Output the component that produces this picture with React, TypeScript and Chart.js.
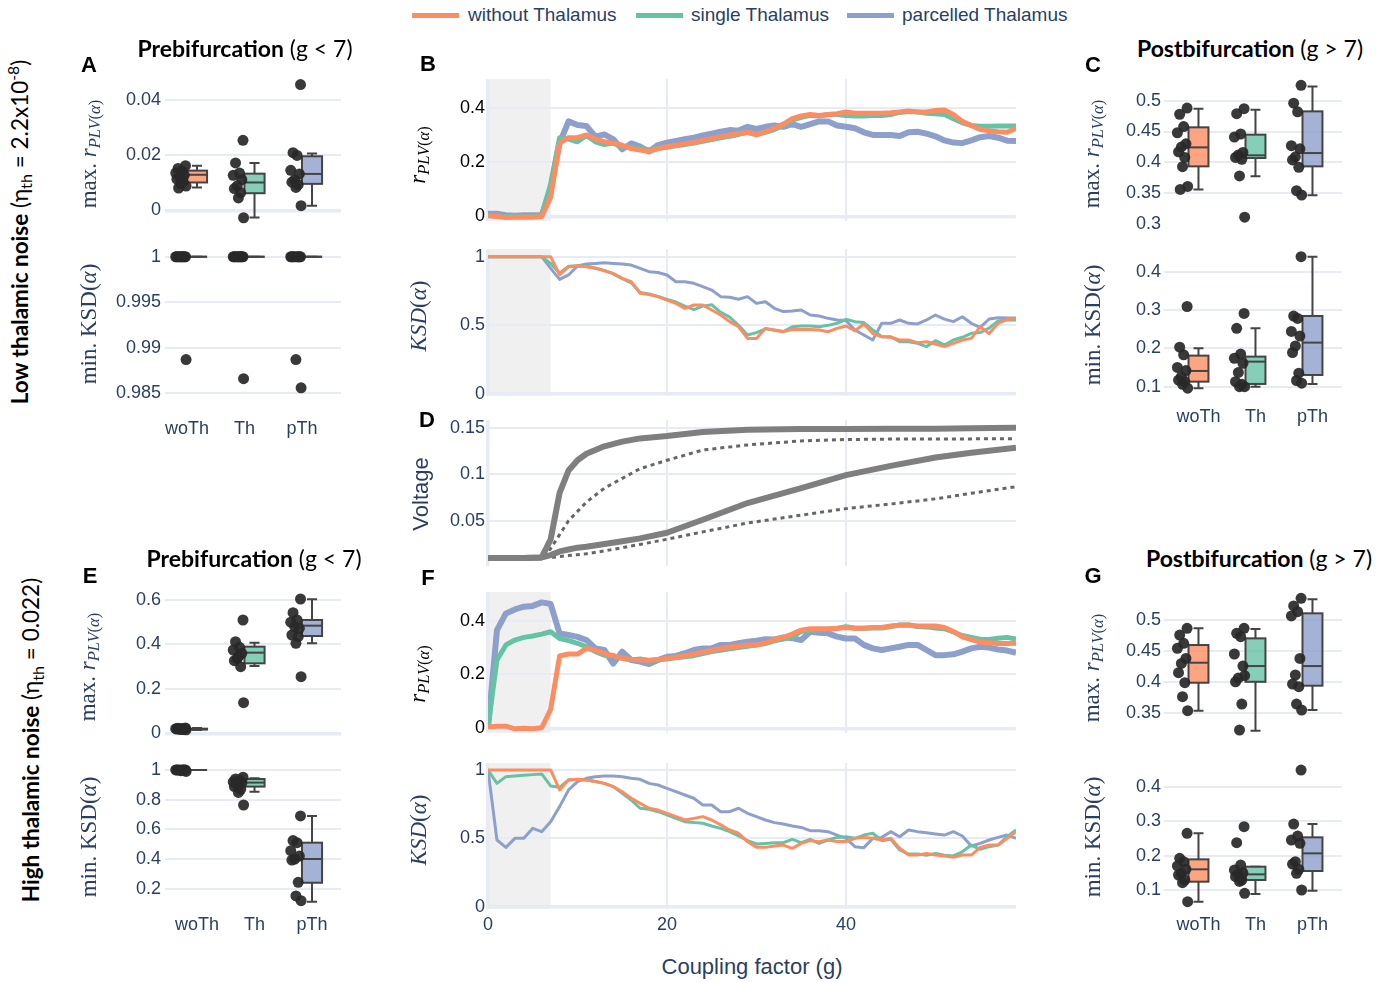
import React, { useEffect, useRef } from "react";
import { Chart, registerables } from "chart.js";

Chart.register(...registerables);

// ---------------- data ----------------
const G = [0,1,2,3,4,5,6,7,8,9,10,11,12,13,14,15,16,17,18,19,20,21,22,23,24,25,26,27,28,29,30,31,32,33,34,35,36,37,38,39,40,41,42,43,44,45,46,47,48,49,50,51,52,53,54,55,56,57,58,59];

// Panel B (low noise) r_PLV
const WO_B_R = [0.003,0.0,-0.004,-0.003,-0.002,-0.003,0.0,0.07,0.27,0.29, 0.29,0.30,0.285,0.275,0.27,0.262,0.25,0.245,0.24,0.25, 0.257,0.262,0.268,0.272,0.28,0.287,0.294,0.30,0.305,0.31, 0.30,0.312,0.325,0.34,0.36,0.37,0.375,0.372,0.375,0.378, 0.385,0.38,0.38,0.38,0.38,0.382,0.385,0.388,0.385,0.385, 0.39,0.392,0.375,0.35,0.335,0.32,0.315,0.312,0.31,0.325];
const TH_B_R = [0.005,0.003,0.0,0.002,0.0,0.001,0.005,0.12,0.29,0.285, 0.275,0.298,0.275,0.265,0.27,0.255,0.255,0.25,0.245,0.25, 0.255,0.26,0.265,0.27,0.277,0.283,0.29,0.295,0.302,0.31, 0.302,0.31,0.32,0.335,0.355,0.365,0.372,0.37,0.375,0.375, 0.372,0.37,0.37,0.372,0.372,0.375,0.383,0.386,0.385,0.38, 0.378,0.375,0.36,0.345,0.335,0.332,0.332,0.333,0.333,0.333];
const PTH_B_R = [0.01,0.01,0.005,0.003,0.005,0.005,0.005,0.1,0.27,0.35, 0.337,0.333,0.294,0.302,0.284,0.247,0.269,0.257,0.239,0.263, 0.272,0.278,0.284,0.29,0.298,0.305,0.312,0.318,0.316,0.33, 0.322,0.33,0.335,0.33,0.34,0.33,0.34,0.35,0.35,0.335, 0.33,0.325,0.31,0.3,0.3,0.3,0.296,0.31,0.312,0.305, 0.295,0.28,0.272,0.27,0.28,0.292,0.296,0.29,0.279,0.278];

// Panel B (low noise) KSD
const WO_B_K = [1,1,1,1,1,1,1,1,0.867,0.927, 0.934,0.927,0.915,0.898,0.878,0.842,0.818,0.733,0.725,0.709, 0.684,0.66,0.624,0.648,0.648,0.612,0.575,0.527,0.49,0.405, 0.405,0.478,0.466,0.454,0.47,0.47,0.47,0.466,0.454,0.478, 0.495,0.461,0.51,0.44,0.417,0.413,0.393,0.393,0.374,0.381, 0.364,0.345,0.369,0.393,0.405,0.49,0.44,0.515,0.544,0.55];
const TH_B_K = [1,1,1,1,1,1,1,0.95,0.88,0.93, 0.932,0.93,0.918,0.9,0.875,0.84,0.81,0.74,0.728,0.71, 0.688,0.67,0.64,0.615,0.64,0.65,0.595,0.56,0.5,0.43, 0.447,0.475,0.465,0.455,0.49,0.495,0.495,0.49,0.5,0.515, 0.544,0.527,0.52,0.466,0.417,0.417,0.381,0.381,0.369,0.345, 0.388,0.357,0.393,0.413,0.442,0.447,0.48,0.532,0.539,0.539];
const PTH_B_K = [1,1,1,1,1,1,1,0.915,0.835,0.867, 0.932,0.947,0.951,0.956,0.951,0.947,0.939,0.915,0.891,0.885, 0.867,0.818,0.818,0.806,0.782,0.757,0.709,0.705,0.69,0.709, 0.66,0.672,0.624,0.6,0.605,0.612,0.575,0.568,0.551,0.539, 0.535,0.466,0.43,0.393,0.515,0.515,0.539,0.515,0.51,0.539, 0.575,0.545,0.527,0.563,0.515,0.485,0.546,0.556,0.553,0.553];

// Panel F (high noise) r_PLV
const WO_F_R = [0.005,0.008,0.008,-0.002,0.0,-0.002,0.002,0.07,0.269,0.276, 0.276,0.297,0.29,0.278,0.27,0.26,0.256,0.255,0.253,0.256, 0.26,0.264,0.27,0.276,0.283,0.29,0.296,0.302,0.305,0.31, 0.31,0.318,0.33,0.338,0.35,0.365,0.37,0.37,0.37,0.372, 0.375,0.372,0.372,0.375,0.375,0.38,0.383,0.384,0.38,0.38, 0.38,0.375,0.36,0.34,0.33,0.32,0.318,0.315,0.315,0.316];
const TH_F_R = [0.006,0.254,0.31,0.328,0.338,0.343,0.35,0.359,0.334,0.326, 0.316,0.303,0.285,0.272,0.27,0.26,0.254,0.258,0.251,0.255, 0.258,0.262,0.266,0.27,0.278,0.285,0.29,0.296,0.3,0.305, 0.31,0.315,0.325,0.332,0.34,0.36,0.365,0.366,0.368,0.371, 0.378,0.372,0.372,0.373,0.373,0.378,0.384,0.384,0.378,0.377, 0.373,0.37,0.358,0.345,0.338,0.331,0.33,0.335,0.338,0.332];
const PTH_F_R = [0.0,0.365,0.427,0.442,0.452,0.455,0.468,0.462,0.353,0.347, 0.34,0.328,0.297,0.291,0.241,0.285,0.254,0.248,0.239,0.254, 0.266,0.269,0.279,0.291,0.297,0.297,0.31,0.31,0.316,0.322, 0.326,0.331,0.33,0.338,0.335,0.328,0.359,0.355,0.353,0.341, 0.334,0.334,0.31,0.297,0.291,0.297,0.303,0.31,0.31,0.291, 0.272,0.272,0.275,0.285,0.297,0.303,0.3,0.293,0.289,0.281];

// Panel F (high noise) KSD
const WO_F_K = [1,1,1,1,1,1,1,1,0.854,0.927, 0.932,0.927,0.915,0.902,0.878,0.841,0.793,0.756,0.72,0.707, 0.683,0.659,0.634,0.646,0.659,0.634,0.598,0.561,0.537,0.476, 0.434,0.434,0.444,0.451,0.427,0.463,0.483,0.476,0.488,0.476, 0.476,0.5,0.507,0.5,0.488,0.5,0.427,0.378,0.378,0.39, 0.378,0.371,0.361,0.378,0.378,0.434,0.451,0.451,0.5,0.549];
const TH_F_K = [1.0,0.902,0.951,0.956,0.961,0.966,0.971,0.883,0.873,0.927, 0.932,0.927,0.915,0.902,0.878,0.829,0.78,0.72,0.712,0.695, 0.671,0.646,0.622,0.615,0.61,0.59,0.573,0.549,0.517,0.483, 0.459,0.463,0.468,0.468,0.493,0.468,0.493,0.463,0.488,0.507, 0.512,0.5,0.524,0.537,0.483,0.493,0.415,0.385,0.385,0.376, 0.39,0.376,0.371,0.402,0.451,0.42,0.439,0.451,0.512,0.561];
const PTH_F_K = [1.0,0.488,0.434,0.5,0.5,0.573,0.549,0.622,0.732,0.854, 0.915,0.939,0.951,0.956,0.956,0.951,0.939,0.932,0.902,0.89, 0.866,0.841,0.817,0.793,0.744,0.744,0.695,0.695,0.72,0.683, 0.659,0.634,0.615,0.605,0.59,0.58,0.556,0.556,0.549,0.524, 0.5,0.439,0.432,0.5,0.507,0.549,0.512,0.561,0.549,0.541, 0.532,0.524,0.549,0.517,0.444,0.463,0.488,0.507,0.524,0.5];

// Panel D voltage
const VG = [0,2,4,6,7,8,9,10,11,13,15,17,20,24,29,35,40,45,50,54,59];
const V_SOLID_1 = [0.01,0.01,0.01,0.0105,0.03,0.08,0.104,0.115,0.122,0.13,0.135,0.1385,0.141,0.1455,0.1478,0.1486,0.1487,0.1489,0.149,0.1495,0.15];
const V_DOT_1 = [0.01,0.01,0.01,0.01,0.02,0.035,0.05,0.06,0.07,0.085,0.0955,0.106,0.115,0.126,0.1315,0.1358,0.1373,0.1378,0.138,0.138,0.1382];
const V_SOLID_2 = [0.01,0.01,0.01,0.0105,0.013,0.017,0.019,0.021,0.022,0.025,0.028,0.031,0.037,0.051,0.069,0.085,0.099,0.109,0.118,0.123,0.1285];
const V_DOT_2 = [0.01,0.01,0.01,0.01,0.0105,0.0115,0.0125,0.0135,0.0145,0.0175,0.021,0.0245,0.03,0.038,0.0475,0.056,0.063,0.068,0.0735,0.0795,0.0866];

// Box panels: points per category [woTh, Th, pTh]; box stats [lowWhisker, q1, median, q3, highWhisker]
const CATS = ["woTh", "Th", "pTh"];
const LEGEND_LABELS = ["without Thalamus", "single Thalamus", "parcelled Thalamus"];

const A_MAX_PTS = [
  [0.0162,0.0152,0.0143,0.0135,0.0128,0.0121,0.0113,0.0104,0.0096,0.0088,0.0081],
  [0.0254,0.0172,0.0135,0.0127,0.0111,0.0089,0.0079,0.0064,0.0045,-0.0027],
  [0.0456,0.0209,0.0199,0.0145,0.0132,0.0111,0.0102,0.0093,0.0083,0.0017],
];
const A_MAX_BOX = [[0.0083,0.0101,0.0129,0.0144,0.0162],[-0.0026,0.0062,0.0101,0.0133,0.0172],[0.0017,0.0096,0.0132,0.0196,0.0206]];
const A_KSD_PTS = [
  [1,1,1,1,1,1,1,1,1,0.9887],
  [1,1,1,1,1,1,1,1,1,0.9866],
  [1,1,1,1,1,1,1,1,0.9887,0.9856],
];
const A_KSD_BOX = [[1,1,1,1,1],[1,1,1,1,1],[1,1,1,1,1]];

const C_MAX_PTS = [
  [0.488,0.478,0.458,0.448,0.43,0.425,0.417,0.408,0.393,0.361,0.356],
  [0.487,0.479,0.446,0.441,0.416,0.412,0.408,0.405,0.378,0.311],
  [0.525,0.496,0.482,0.427,0.422,0.409,0.404,0.392,0.354,0.347],
];
const C_MAX_BOX = [[0.356,0.3935,0.4243,0.4568,0.487],[0.3773,0.407,0.4114,0.4449,0.4854],[0.3465,0.3935,0.4151,0.4827,0.5232]];
const C_KSD_PTS = [
  [0.309,0.203,0.183,0.15,0.142,0.126,0.117,0.113,0.106,0.096],
  [0.291,0.252,0.185,0.174,0.161,0.137,0.113,0.106,0.1,0.1],
  [0.439,0.284,0.278,0.244,0.232,0.206,0.189,0.135,0.116,0.109],
];
const C_KSD_BOX = [[0.0957,0.113,0.1409,0.1809,0.2],[0.1,0.107,0.1652,0.1783,0.2522],[0.107,0.1304,0.2148,0.2843,0.4391]];

const E_MAX_PTS = [
  [0.024,0.023,0.022,0.021,0.02,0.019,0.019,0.018,0.017,0.016],
  [0.51,0.4125,0.387,0.375,0.36,0.3375,0.327,0.3,0.345,0.138],
  [0.6045,0.543,0.51,0.5,0.4725,0.48,0.4425,0.435,0.405,0.255],
];
const E_MAX_BOX = [[0.015,0.017,0.019,0.021,0.024],[0.303,0.315,0.363,0.39,0.408],[0.405,0.438,0.4845,0.51,0.603]];
const E_KSD_PTS = [
  [1,1,1,1,1,1,1,1,0.995,0.99],
  [0.951,0.94,0.93,0.92,0.91,0.9,0.888,0.87,0.849,0.764],
  [0.69,0.524,0.51,0.456,0.42,0.4,0.393,0.243,0.151,0.119],
];
const E_KSD_BOX = [[1,1,1,1,1],[0.854,0.888,0.915,0.939,0.945],[0.112,0.24,0.4,0.51,0.69]];

const G_MAX_PTS = [
  [0.4865,0.4757,0.4622,0.4541,0.4379,0.4298,0.4147,0.3985,0.3759,0.3532],
  [0.4865,0.4784,0.473,0.445,0.4255,0.4061,0.4,0.364,0.322,0.41],
  [0.5351,0.5227,0.5135,0.5065,0.4379,0.411,0.3964,0.3921,0.364,0.3543],
];
const G_MAX_BOX = [[0.3532,0.3985,0.4309,0.4595,0.4865],[0.3208,0.4,0.4255,0.4703,0.4854],[0.3543,0.3937,0.4255,0.5108,0.5335]];
const G_KSD_PTS = [
  [0.2645,0.1919,0.1822,0.17,0.16,0.1483,0.1435,0.129,0.1212,0.066],
  [0.2838,0.2374,0.1725,0.158,0.15,0.145,0.1386,0.129,0.125,0.0902],
  [0.4484,0.2916,0.2567,0.245,0.2354,0.1822,0.1754,0.16,0.1483,0.1],
];
const G_KSD_BOX = [[0.066,0.1241,0.16,0.189,0.2645],[0.0883,0.129,0.1454,0.1677,0.1677],[0.098,0.1551,0.2064,0.2529,0.2916]];

// tick values
const X_TICKS = [0, 20, 40];
const Y_TICKS_R = [0, 0.2, 0.4];
const Y_TICKS_K = [0, 0.5, 1];
const Y_TICKS_V = [0.05, 0.1, 0.15];
const A_MAX_TICKS = [0, 0.02, 0.04];
const A_KSD_TICKS = [0.985, 0.99, 0.995, 1];
const C_MAX_TICKS = [0.3, 0.35, 0.4, 0.45, 0.5];
const C_KSD_TICKS = [0.1, 0.2, 0.3, 0.4];
const E_MAX_TICKS = [0, 0.2, 0.4, 0.6];
const E_KSD_TICKS = [0.2, 0.4, 0.6, 0.8, 1];
const G_MAX_TICKS = [0.35, 0.4, 0.45, 0.5];
const G_KSD_TICKS = [0.1, 0.2, 0.3, 0.4];

// jitter offsets of the strip points (category units)
const JIT = [-0.2, -0.33, -0.26, -0.37, -0.22, -0.3, -0.35, -0.24, -0.28, -0.19, -0.32];

// ---------------- styles ----------------
const TEXT = "#2a3f5f";
const GRID = "#E6EBF4";
const SANS = "'Liberation Sans', Arial, sans-serif";
const SERIF = "'Liberation Serif', 'Times New Roman', serif";
const TFONT = "Lato, 'Open Sans', sans-serif";
const COLORS = ["#fc8d62", "#66c2a5", "#8da0cb"];
const BOX_FILL = ["rgba(252,141,98,0.8)", "rgba(102,194,165,0.8)", "rgba(141,160,203,0.8)"];
const SHADE = "#F0F0F0";

const YW = 70, PT = 14, PR = 6, PB = 2;
const XH_NONE = 14; // empty space kept below panels without x tick labels

const zeroPad = (s: any) => { s.paddingTop = 0; s.paddingBottom = 0; s.paddingLeft = 0; s.paddingRight = 0; };

function yScale(min: number, max: number, ticks: number[], color: string, pad: number, hideAt: number[] = []) {
  return {
    type: "linear", position: "left", min, max, bounds: "data",
    afterFit: (s: any) => { s.width = YW; zeroPad(s); },
    afterBuildTicks: (s: any) => { s.ticks = ticks.map((v) => ({ value: v })); },
    border: { display: false },
    grid: {
      drawTicks: false,
      color: (c: any) => (c.tick && hideAt.includes(c.tick.value) ? "rgba(0,0,0,0)" : GRID),
      lineWidth: (c: any) => (c.tick && c.tick.value === 0 ? 3.5 : 2),
    },
    ticks: { padding: pad, color, font: { family: SANS, size: 18 }, autoSkip: false, callback: (v: any) => String(v) },
  };
}

function shadePlugin(from: number, to: number) {
  return {
    id: "shade",
    beforeDraw(chart: any) {
      const { ctx, chartArea, scales } = chart;
      const x0 = scales.x.getPixelForValue(from), x1 = scales.x.getPixelForValue(to);
      ctx.save();
      ctx.fillStyle = SHADE;
      ctx.fillRect(x0, chartArea.top, x1 - x0, chartArea.bottom - chartArea.top);
      ctx.restore();
    },
  };
}

function boxPlugin(stats: number[][], hw: number) {
  return {
    id: "boxes",
    beforeDatasetsDraw(chart: any) {
      const { ctx, scales } = chart;
      const x = scales.x, y = scales.y;
      stats.forEach((s, i) => {
        const cx = x.getPixelForValue(i);
        const half = x.getPixelForValue(i + hw) - cx;
        const lo = y.getPixelForValue(s[0]), q1 = y.getPixelForValue(s[1]), med = y.getPixelForValue(s[2]);
        const q3 = y.getPixelForValue(s[3]), hi = y.getPixelForValue(s[4]);
        ctx.save();
        ctx.strokeStyle = "#444";
        ctx.lineWidth = 2;
        ctx.beginPath();
        ctx.moveTo(cx, q3); ctx.lineTo(cx, hi);
        ctx.moveTo(cx, q1); ctx.lineTo(cx, lo);
        ctx.moveTo(cx - half / 2, hi); ctx.lineTo(cx + half / 2, hi);
        ctx.moveTo(cx - half / 2, lo); ctx.lineTo(cx + half / 2, lo);
        ctx.stroke();
        ctx.fillStyle = BOX_FILL[i];
        ctx.fillRect(cx - half, q3, 2 * half, q1 - q3);
        ctx.strokeRect(cx - half, q3, 2 * half, q1 - q3);
        ctx.beginPath();
        ctx.moveTo(cx - half, med); ctx.lineTo(cx + half, med);
        ctx.stroke();
        ctx.restore();
      });
    },
  };
}

const baseOptions = () => ({
  animation: false, responsive: false, maintainAspectRatio: false, events: [],
  layout: { autoPadding: false, padding: { top: PT, right: PR, bottom: PB, left: 0 } },
  plugins: { legend: { display: false }, tooltip: { enabled: false } },
});

type Series = { xs: number[]; ys: number[]; color: string; width: number; dash?: number[] };

function lineConfig(p: { series: Series[]; ymin: number; ymax: number; yticks: number[]; tickColor: string; shade: boolean; showX: boolean; xh: number }) {
  return {
    type: "line",
    data: {
      datasets: p.series.map((s) => ({
        data: s.xs.map((g, i) => ({ x: g, y: s.ys[i] })),
        borderColor: s.color, borderWidth: s.width, borderDash: s.dash || [],
        pointRadius: 0, fill: false, tension: 0, borderJoinStyle: "round",
      })),
    },
    options: {
      ...baseOptions(),
      scales: {
        x: {
          type: "linear", min: 0, max: 59, bounds: "data",
          afterFit: (s: any) => { s.height = p.xh; zeroPad(s); },
          afterBuildTicks: (s: any) => { s.ticks = X_TICKS.map((v) => ({ value: v })); },
          border: { display: false },
          grid: { drawTicks: false, color: GRID, lineWidth: (c: any) => (c.tick && c.tick.value === 0 ? 3.5 : 2) },
          ticks: { display: p.showX, padding: 5, color: TEXT, font: { family: SANS, size: 18 }, maxRotation: 0, autoSkip: false, callback: (v: any) => String(v) },
        },
        y: yScale(p.ymin, p.ymax, p.yticks, p.tickColor, 3),
      },
    },
    plugins: p.shade ? [shadePlugin(0, 7)] : [],
  };
}

function boxConfig(p: { pts: number[][]; stats: number[][]; ymin: number; ymax: number; yticks: number[]; xmin: number; xmax: number; showX: boolean; xh: number; xpad: number; labelOffset: number; ypad: number; hideAt?: number[] }) {
  const data: { x: number; y: number }[] = [];
  p.pts.forEach((arr, ci) => arr.forEach((v, j) => data.push({ x: ci + JIT[j % JIT.length], y: v })));
  return {
    type: "scatter",
    data: { datasets: [{ data, pointRadius: 5.5, pointBackgroundColor: "rgba(40,40,40,0.92)", pointBorderWidth: 0, clip: false }] },
    options: {
      ...baseOptions(),
      scales: {
        x: {
          type: "linear", min: p.xmin, max: p.xmax, bounds: "data",
          afterFit: (s: any) => { s.height = p.xh; zeroPad(s); },
          afterBuildTicks: (s: any) => { s.ticks = [0, 1, 2].map((v) => ({ value: v })); },
          border: { display: false },
          grid: { display: false },
          ticks: { display: p.showX, padding: p.xpad, labelOffset: p.labelOffset, color: TEXT, font: { family: SANS, size: 18 }, maxRotation: 0, autoSkip: false, callback: (v: any) => CATS[v] },
        },
        y: yScale(p.ymin, p.ymax, p.yticks, TEXT, p.ypad, p.hideAt || []),
      },
    },
    plugins: [boxPlugin(p.stats, 0.175)],
  };
}

function ChartCanvas({ L, T, R, B, xh, make }: { L: number; T: number; R: number; B: number; xh: number; make: () => any }) {
  const ref = useRef<HTMLCanvasElement | null>(null);
  const w = YW + (R - L) + PR;
  const h = PT + (B - T) + xh + PB;
  useEffect(() => {
    if (!ref.current) return;
    const chart = new Chart(ref.current, make());
    return () => chart.destroy();
  }, []);
  return <canvas ref={ref} width={w} height={h} style={{ position: "absolute", left: L - YW, top: T - PT, width: w, height: h }} />;
}

function Txt({ x, y, rot, style, children }: { x: number; y: number; rot?: boolean; style?: any; children: any }) {
  return (
    <div style={{ position: "absolute", left: x, top: y, transform: `translate(-50%,-50%)${rot ? " rotate(-90deg)" : ""}`, whiteSpace: "nowrap", lineHeight: 1.15, ...style }}>
      {children}
    </div>
  );
}

const SUB = { fontSize: "0.72em", verticalAlign: "-0.3em" };
const MaxR = ({ color }: { color: string }) => (
  <span style={{ fontFamily: SERIF, fontSize: 23, color }}>max. <i>r</i><span style={SUB}><i>PLV</i>(<i>α</i>)</span></span>
);
const RPlv = () => (
  <span style={{ fontFamily: SERIF, fontSize: 23, color: "#000" }}><i>r</i><span style={SUB}><i>PLV</i>(<i>α</i>)</span></span>
);
const MinK = () => (
  <span style={{ fontFamily: SERIF, fontSize: 23, color: TEXT }}>min. KSD(<i>α</i>)</span>
);
const Ksd = () => (
  <span style={{ fontFamily: SERIF, fontSize: 23, color: TEXT }}><i>KSD</i>(<i>α</i>)</span>
);

const series3 = (a: number[], b: number[], c: number[], w: number[]): Series[] => [
  { xs: G, ys: a, color: COLORS[0], width: w[0] },
  { xs: G, ys: b, color: COLORS[1], width: w[1] },
  { xs: G, ys: c, color: COLORS[2], width: w[2] },
];

export default function App() {
  const boxX1 = { xmin: -0.5565, xmax: 2.504 };
  const boxX2 = { xmin: -0.605, xmax: 2.518 };
  const N = XH_NONE;
  const charts = [
    // line panels
    { k: "Br", L: 488, R: 1016, T: 79, B: 221, xh: N, make: () => lineConfig({ series: series3(WO_B_R, TH_B_R, PTH_B_R, [5, 5, 6]), ymin: -0.0166, ymax: 0.506, yticks: Y_TICKS_R, tickColor: "#000", shade: true, showX: false, xh: N }) },
    { k: "Bk", L: 488, R: 1016, T: 249, B: 396, xh: N, make: () => lineConfig({ series: series3(WO_B_K, TH_B_K, PTH_B_K, [3, 3, 3]), ymin: -0.0146, ymax: 1.056, yticks: Y_TICKS_K, tickColor: TEXT, shade: true, showX: false, xh: N }) },
    { k: "D", L: 488, R: 1016, T: 420, B: 566, xh: N, make: () => lineConfig({ series: [
        { xs: VG, ys: V_SOLID_1, color: "#7f7f7f", width: 6 },
        { xs: VG, ys: V_SOLID_2, color: "#7f7f7f", width: 6 },
        { xs: VG, ys: V_DOT_1, color: "#666", width: 3, dash: [4, 4] },
        { xs: VG, ys: V_DOT_2, color: "#666", width: 3, dash: [4, 4] },
      ], ymin: 0.0013, ymax: 0.1583, yticks: Y_TICKS_V, tickColor: TEXT, shade: false, showX: false, xh: N }) },
    { k: "Fr", L: 488, R: 1016, T: 592, B: 733, xh: N, make: () => lineConfig({ series: series3(WO_F_R, TH_F_R, PTH_F_R, [5, 5, 6]), ymin: -0.0175, ymax: 0.5067, yticks: Y_TICKS_R, tickColor: "#000", shade: true, showX: false, xh: N }) },
    { k: "Fk", L: 488, R: 1016, T: 763, B: 909, xh: 32, make: () => lineConfig({ series: series3(WO_F_K, TH_F_K, PTH_F_K, [3, 3, 3]), ymin: -0.0168, ymax: 1.051, yticks: Y_TICKS_K, tickColor: TEXT, shade: true, showX: true, xh: 32 }) },
    // box panels
    { k: "Au", L: 165, R: 341, T: 78, B: 223, xh: N, make: () => boxConfig({ pts: A_MAX_PTS, stats: A_MAX_BOX, ymin: -0.0046, ymax: 0.048, yticks: A_MAX_TICKS, ...boxX1, showX: false, xh: N, xpad: 0, labelOffset: 0, ypad: 4 }) },
    { k: "Al", L: 165, R: 341, T: 249, B: 401, xh: 45, make: () => boxConfig({ pts: A_KSD_PTS, stats: A_KSD_BOX, ymin: 0.98415, ymax: 1.00085, yticks: A_KSD_TICKS, ...boxX1, showX: true, xh: 45, xpad: 9, labelOffset: -10, ypad: 4 }) },
    { k: "Cu", L: 1164, R: 1342, T: 79, B: 224, xh: N, make: () => boxConfig({ pts: C_MAX_PTS, stats: C_MAX_BOX, ymin: 0.3, ymax: 0.5352, yticks: C_MAX_TICKS, ...boxX2, showX: false, xh: N, xpad: 0, labelOffset: 0, ypad: 3, hideAt: [0.3] }) },
    { k: "Cl", L: 1164, R: 1342, T: 249, B: 392, xh: 45, make: () => boxConfig({ pts: C_KSD_PTS, stats: C_KSD_BOX, ymin: 0.086, ymax: 0.459, yticks: C_KSD_TICKS, ...boxX2, showX: true, xh: 45, xpad: 6, labelOffset: 0, ypad: 3 }) },
    { k: "Eu", L: 165, R: 341, T: 590, B: 738, xh: N, make: () => boxConfig({ pts: E_MAX_PTS, stats: E_MAX_BOX, ymin: -0.021, ymax: 0.645, yticks: E_MAX_TICKS, ...boxX1, showX: false, xh: N, xpad: 0, labelOffset: 0, ypad: 4 }) },
    { k: "El", L: 165, R: 341, T: 763, B: 905, xh: 40, make: () => boxConfig({ pts: E_KSD_PTS, stats: E_KSD_BOX, ymin: 0.09, ymax: 1.047, yticks: E_KSD_TICKS, ...boxX1, showX: true, xh: 40, xpad: 1, labelOffset: 0, ypad: 4 }) },
    { k: "Gu", L: 1164, R: 1342, T: 592, B: 736, xh: N, make: () => boxConfig({ pts: G_MAX_PTS, stats: G_MAX_BOX, ymin: 0.3123, ymax: 0.5453, yticks: G_MAX_TICKS, ...boxX2, showX: false, xh: N, xpad: 0, labelOffset: 0, ypad: 3 }) },
    { k: "Gl", L: 1164, R: 1342, T: 763, B: 905, xh: 40, make: () => boxConfig({ pts: G_KSD_PTS, stats: G_KSD_BOX, ymin: 0.0564, ymax: 0.4688, yticks: G_KSD_TICKS, ...boxX2, showX: true, xh: 40, xpad: 1, labelOffset: 0, ypad: 3 }) },
  ];

  const letter = { fontFamily: SANS, fontWeight: 700, fontSize: 22, color: "#000" };
  const title = { fontFamily: TFONT, fontSize: 23, color: "#000" };
  const side = { fontFamily: TFONT, fontSize: 22.5, color: "#000" };
  const legendX = [[412, 468], [636, 691], [847, 902]];

  return (
    <div style={{ position: "absolute", left: 0, top: 0, width: 1391, height: 982, background: "#fff", overflow: "hidden" }}>
      {charts.map((c) => (
        <ChartCanvas key={c.k} L={c.L} T={c.T} R={c.R} B={c.B} xh={c.xh} make={c.make} />
      ))}

      {/* legend */}
      {LEGEND_LABELS.map((name, i) => (
        <React.Fragment key={name}>
          <div style={{ position: "absolute", left: legendX[i][0], top: 12.5, width: 47, height: 5, background: COLORS[i] }} />
          <div style={{ position: "absolute", left: legendX[i][1], top: 4, lineHeight: "22px", fontFamily: SANS, fontSize: 19, color: TEXT, whiteSpace: "nowrap" }}>{name}</div>
        </React.Fragment>
      ))}

      {/* panel letters */}
      <Txt x={89} y={65} style={letter}>A</Txt>
      <Txt x={428} y={64} style={letter}>B</Txt>
      <Txt x={1093} y={65} style={letter}>C</Txt>
      <Txt x={427} y={420} style={letter}>D</Txt>
      <Txt x={90} y={576} style={letter}>E</Txt>
      <Txt x={428} y={578} style={letter}>F</Txt>
      <Txt x={1093} y={576} style={letter}>G</Txt>

      {/* panel titles */}
      <Txt x={245} y={48} style={title}><b>Prebifurcation</b> (g &lt; 7)</Txt>
      <Txt x={1250} y={48} style={title}><b>Postbifurcation</b> (g &gt; 7)</Txt>
      <Txt x={254} y={558} style={title}><b>Prebifurcation</b> (g &lt; 7)</Txt>
      <Txt x={1259} y={558} style={title}><b>Postbifurcation</b> (g &gt; 7)</Txt>

      {/* row labels */}
      <Txt x={20} y={232} rot style={side}><b>Low thalamic noise</b> (η<span style={SUB}>th</span> = 2.2x10<sup style={{ fontSize: "0.7em" }}>-8</sup>)</Txt>
      <Txt x={33} y={740} rot style={side}><b>High thalamic noise</b> (η<span style={SUB}>th</span> = 0.022)</Txt>

      {/* y-axis titles */}
      <Txt x={90} y={154} rot><MaxR color={TEXT} /></Txt>
      <Txt x={89} y={324} rot><MinK /></Txt>
      <Txt x={1093} y={154} rot><MaxR color={TEXT} /></Txt>
      <Txt x={1093} y={325} rot><MinK /></Txt>
      <Txt x={89} y={667} rot><MaxR color={TEXT} /></Txt>
      <Txt x={89} y={837} rot><MinK /></Txt>
      <Txt x={1093} y={668} rot><MaxR color={TEXT} /></Txt>
      <Txt x={1093} y={837} rot><MinK /></Txt>
      <Txt x={419} y={155} rot><RPlv /></Txt>
      <Txt x={419} y={316} rot><Ksd /></Txt>
      <Txt x={421} y={494} rot style={{ fontFamily: SANS, fontSize: 22, color: TEXT }}>Voltage</Txt>
      <Txt x={419} y={674} rot><RPlv /></Txt>
      <Txt x={419} y={830} rot><Ksd /></Txt>

      {/* x-axis title */}
      <Txt x={752} y={967} style={{ fontFamily: SANS, fontSize: 22, color: TEXT }}>Coupling factor (g)</Txt>
    </div>
  );
}
